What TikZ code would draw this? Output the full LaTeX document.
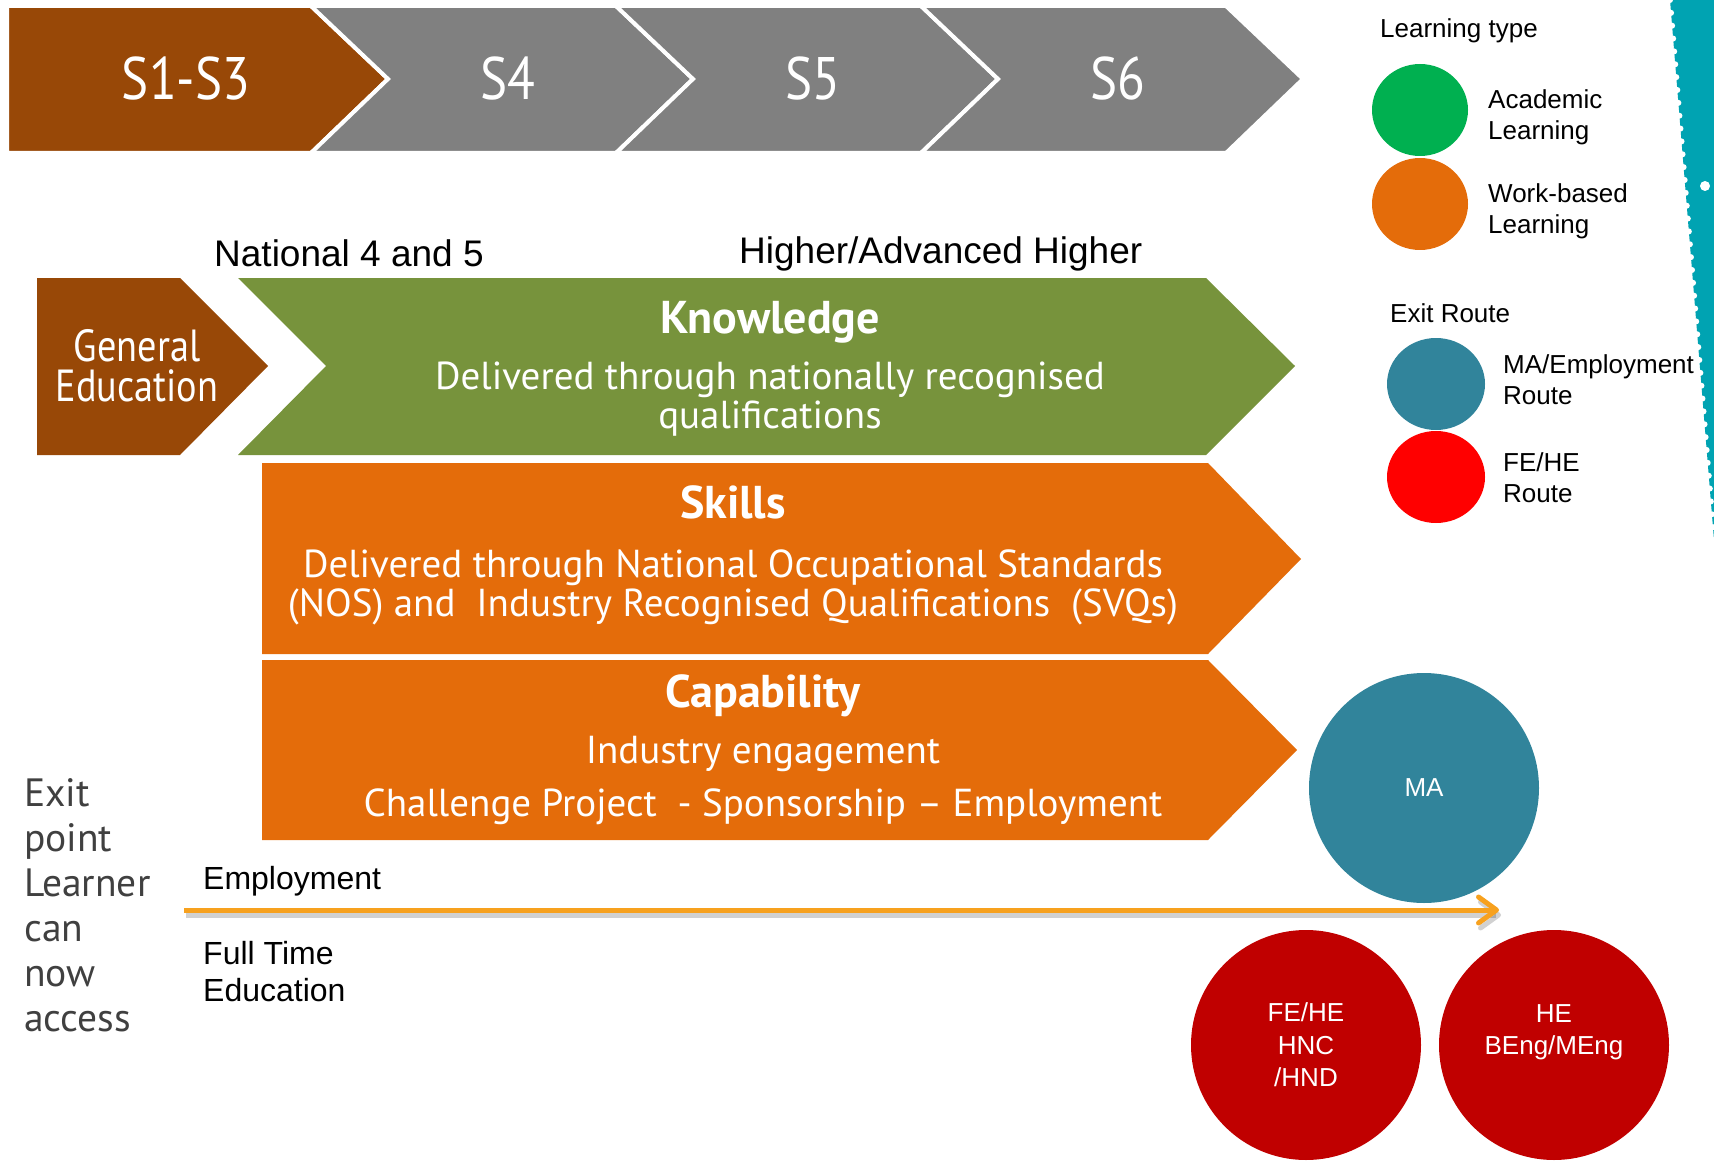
\documentclass[tikz,border=0pt]{standalone}
\usepackage{fontspec}
\setmainfont{Liberation Sans}
\newfontfamily\chevfont{PT Sans}[FakeStretch=0.85]
\newfontfamily\bodyfont{PT Sans}
\usetikzlibrary{arrows.meta}

\definecolor{stagebrown}{HTML}{984807}
\definecolor{stagegrey}{HTML}{808080}
\definecolor{knowgreen}{HTML}{77933C}
\definecolor{workorange}{HTML}{E46C0A}
\definecolor{acadgreen}{HTML}{00B050}
\definecolor{mablue}{HTML}{31849B}
\definecolor{routered}{HTML}{FF0000}
\definecolor{circred}{HTML}{C00000}
\definecolor{arroworange}{HTML}{F7A11E}
\definecolor{bandteal}{HTML}{00A3B2}
\definecolor{exitgrey}{HTML}{404040}

\begin{document}
\begin{tikzpicture}[x=1pt, y=-1pt,
    chev/.style={draw=white, line width=4pt, line join=miter},
    stagetxt/.style={text=white, inner sep=0pt, font=\chevfont\fontsize{60}{72}\selectfont},
    titletxt/.style={text=white, inner sep=0pt, anchor=base, font=\bodyfont\bfseries\fontsize{46}{52}\selectfont},
    bodytxt/.style={text=white, inner sep=0pt, anchor=north, align=center, font=\bodyfont\fontsize{39}{39}\selectfont},
    keytxt/.style={inner sep=0pt, anchor=north west, align=left, font=\fontsize{26}{31.5}\selectfont},
    headtxt/.style={inner sep=0pt, anchor=base west, font=\fontsize{26}{30}\selectfont},
    routecirc/.style={circle, minimum size=230pt, inner sep=0pt, text=white, align=center, font=\fontsize{26}{32.5}\selectfont}]
    \useasboundingbox (0,0) rectangle (1714,1161);

    % teal band on the right edge
    \fill[bandteal] (1670,0) -- (1714,0) -- (1714,540) -- cycle;
    \foreach \i in {0,...,42}
        \fill[white] ({1670+1.0476*\i},{12.857*\i}) circle (3pt);
    \fill[white] (1705,186) circle (5pt);

    % stages
    \path[chev, fill=stagebrown] (7,6) -- (311,6) -- (388,79) -- (311,153) -- (7,153) -- cycle;
    \node[stagetxt] (s13) at (186,79) {S1-S3};
    \foreach \l/\nm/\lab in {311/s4/S4, 616/s5/S5, 921/s6/S6} {
        \path[chev, fill=stagegrey] (\l,6) -- (\l+305,6) -- (\l+382,79) -- (\l+305,153) -- (\l,153) -- (\l+77,79) -- cycle;
        \node[stagetxt] (\nm) at (\l+197,79) {\lab};
    }

    \node[inner sep=0pt, anchor=base west, font=\fontsize{37}{40}\selectfont] (nat) at (214,267) {National 4 and 5};
    \node[inner sep=0pt, anchor=base west, font=\fontsize{37}{40}\selectfont] (higher) at (739,264) {Higher/Advanced Higher};

    % general education
    \fill[stagebrown] (37,278) -- (180,278) -- (268,366) -- (180,455) -- (37,455) -- cycle;
    \node[bodytxt, anchor=center, font=\chevfont\fontsize{45}{40}\selectfont] (gened) at (137,366) {General\\Education};

    % knowledge
    \fill[knowgreen] (238,278) -- (1206,278) -- (1295,366) -- (1206,455) -- (238,455) -- (326,366) -- cycle;
    \node[titletxt] (know) at (770,333) {Knowledge};
    \node[bodytxt] (knowb) at (770,362) {Delivered through nationally recognised\\qualifications};

    % skills
    \fill[workorange] (262,463) -- (1208,463) -- (1301,559) -- (1208,654) -- (262,654) -- cycle;
    \node[titletxt] (skill) at (733,518) {Skills};
    \node[bodytxt] (skillb) at (733,550) {Delivered through National Occupational Standards\\(NOS) and~ Industry Recognised Qualifications~ (SVQs)};

    % capability
    \fill[workorange] (262,660) -- (1208,660) -- (1297,750) -- (1208,840) -- (262,840) -- cycle;
    \node[titletxt] (capab) at (763,707) {Capability};
    \node[bodytxt] (capabb) at (763,736) {Industry engagement\\[14pt]Challenge Project~ - Sponsorship – Employment};

    % exit point
    \node[inner sep=0pt, anchor=north west, align=left, text=exitgrey, font=\bodyfont\fontsize{39.5}{45}\selectfont] (exitpt) at (24,778) {Exit\\point\\Learner\\can\\now\\access};
    \node[inner sep=0pt, anchor=base west, font=\fontsize{32}{37}\selectfont] (employ) at (203,889) {Employment};
    \node[inner sep=0pt, anchor=north west, align=left, font=\fontsize{32}{37}\selectfont] (fulltime) at (203,941) {Full Time\\Education};

    \coordinate (arrstart) at (184,910);
    \coordinate (arrend) at (1499,910);
    \draw[line width=5pt, black, opacity=.18, -{Straight Barb[length=18pt,width=26pt,round]}] ([xshift=2pt,yshift=-5pt]arrstart) -- ([xshift=2pt,yshift=-5pt]arrend);
    \draw[line width=5pt, arroworange, -{Straight Barb[length=18pt,width=26pt,round]}] (arrstart) -- (arrend);

    % exit routes
    \node[routecirc, fill=mablue] (ma) at (1424,788) {MA};
    \node[routecirc, fill=circred] (fehe) at (1306,1045) {FE/HE\\HNC\\/HND};
    \node[routecirc, fill=circred] (he) at (1554,1045) {};
    \node[routecirc, minimum size=0pt] (hetxt) at (1554,1032) {HE\\BEng/MEng};

    % legend
    \node[headtxt] (ltype) at (1380,38) {Learning type};
    \fill[acadgreen] (1420,110) ellipse [x radius=48pt, y radius=46pt];
    \fill[workorange] (1420,204) ellipse [x radius=48pt, y radius=46pt];
    \node[keytxt] (acad) at (1488,89) {Academic\\Learning};
    \node[keytxt] (work) at (1488,183) {Work-based\\Learning};
    \node[headtxt] (eroute) at (1390,322) {Exit Route};
    \fill[mablue] (1436,384) ellipse [x radius=49pt, y radius=46pt];
    \fill[routered] (1436,477) ellipse [x radius=49pt, y radius=46pt];
    \node[keytxt] (maroute) at (1503,354) {MA/Employment\\Route};
    \node[keytxt] (feroute) at (1503,452) {FE/HE\\Route};
\end{tikzpicture}
\end{document}
